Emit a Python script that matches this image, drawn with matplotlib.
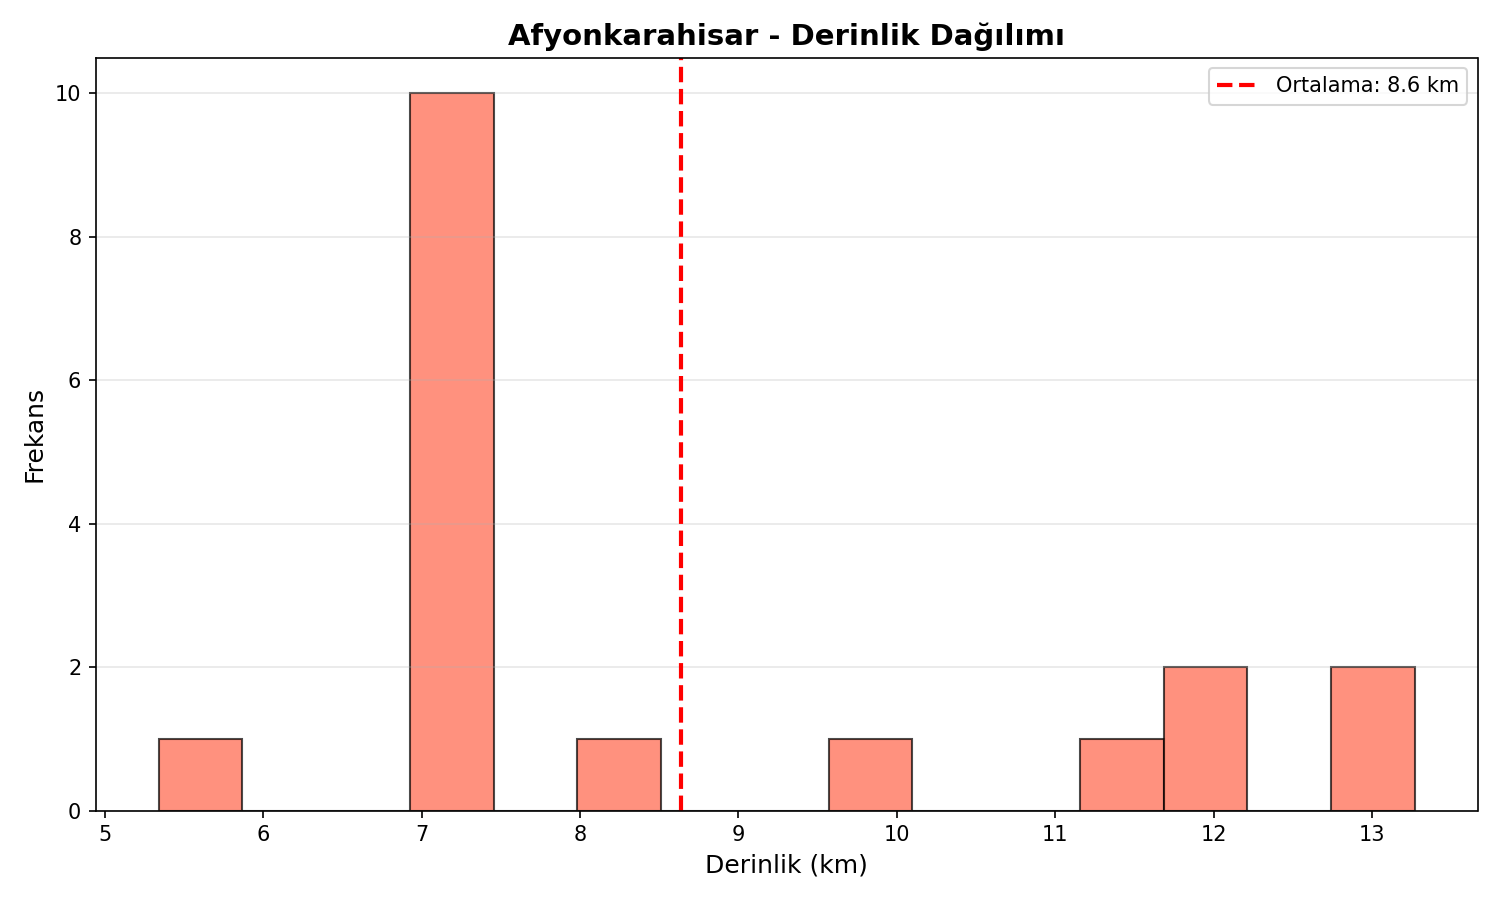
import numpy as np
import matplotlib.pyplot as plt

city = 'Afyonkarahisar'
depths = [5.34, 7.0, 7.0, 7.0, 7.0, 7.0, 7.0, 7.0, 7.0, 7.0, 7.0,
          8.3, 10.0, 11.5, 12.0, 12.1, 13.0, 13.27]

mean_depth = np.mean(depths)

fig, ax = plt.subplots(figsize=(10, 6), dpi=150)
ax.hist(depths, bins=15, color='tomato', edgecolor='black', alpha=0.7)
ax.axvline(mean_depth, color='red', linestyle='--', linewidth=2,
           label=f'Ortalama: {mean_depth:.1f} km')
ax.set_title(f'{city} - Derinlik Dağılımı', fontsize=14, fontweight='bold')
ax.set_xlabel('Derinlik (km)', fontsize=12)
ax.set_ylabel('Frekans', fontsize=12)
ax.grid(axis='y', alpha=0.3)
ax.legend()
plt.tight_layout()
plt.savefig('out.png')
